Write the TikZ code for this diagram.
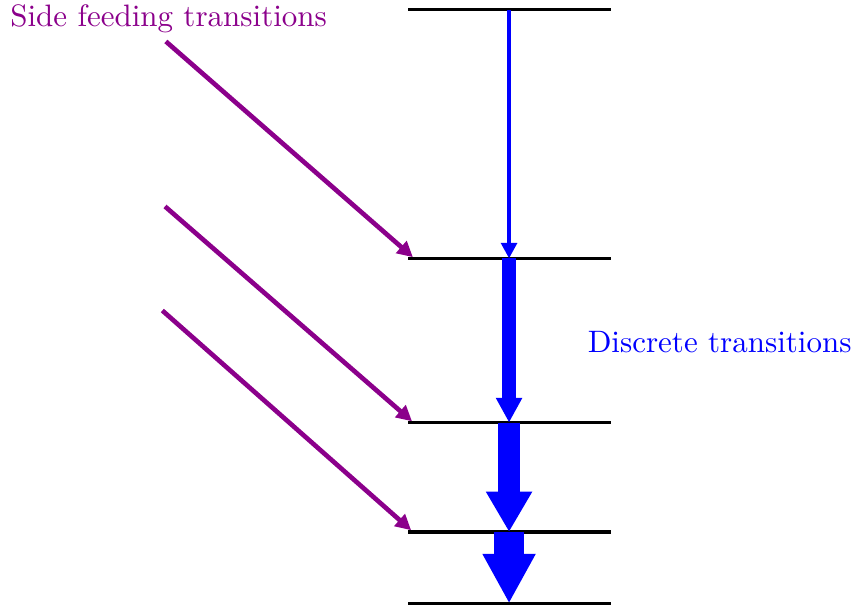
\documentclass[tikz,border=0pt]{standalone}
\usetikzlibrary{arrows.meta}

\definecolor{feedcol}{RGB}{139,0,139}
\tikzstyle{lvl} = [black, line width=1pt]
\tikzstyle{feed} = [feedcol, line width=1.5pt, -{Triangle[width=5pt,length=5pt]}]
\tikzstyle{decay} = [blue]

\begin{document}
\begin{tikzpicture}
\useasboundingbox (0,0) rectangle (9.68,6.88);
%levels
\coordinate (l0w) at (4.63,6.77); \coordinate (l0e) at (6.92,6.77);
\coordinate (l1w) at (4.63,3.95); \coordinate (l1e) at (6.92,3.95);
\coordinate (l2w) at (4.63,2.09); \coordinate (l2e) at (6.92,2.09);
\coordinate (l3w) at (4.63,0.85); \coordinate (l3e) at (6.92,0.85);
\coordinate (l4w) at (4.63,0.04); \coordinate (l4e) at (6.92,0.04);
\coordinate (l0) at (5.77,6.77);
\coordinate (l1) at (5.77,3.95);
\coordinate (l2) at (5.77,2.09);
\coordinate (l3) at (5.77,0.85);
\coordinate (l4) at (5.77,0.04);
\draw[lvl] (l0w) -- (l0e);
\draw[lvl] (l1w) -- (l1e);
\draw[lvl] (l2w) -- (l2e);
\draw[lvl] (l3w) -- (l3e);
\draw[lvl] (l4w) -- (l4e);
%begin discrete
\draw[decay, line width=1.3pt, -{Triangle[width=5pt,length=5pt]}] (l0) -- (l1);
\draw[decay, line width=4.5pt, -{Triangle[width=8pt,length=8pt]}] (l1) -- (l2);
\draw[decay, line width=7pt, -{Triangle[width=14pt,length=13pt]}] (l2) -- (l3);
\draw[decay, line width=9.4pt, -{Triangle[width=16pt,length=16pt]}] (l3) -- (l4);
\node[blue, anchor=base west, inner sep=0pt] (disc) at (6.655,2.88) {Discrete transitions};
%end discrete
%begin side feeding
\coordinate (s1) at (1.88,6.41); \coordinate (t1) at (4.68,3.965);
\coordinate (s2) at (1.87,4.54); \coordinate (t2) at (4.67,2.105);
\coordinate (s3) at (1.84,3.36); \coordinate (t3) at (4.66,0.87);
\draw[feed] (s1) -- (t1);
\draw[feed] (s2) -- (t2);
\draw[feed] (s3) -- (t3);
\node[feedcol, anchor=base west, inner sep=0pt] (side) at (0.11,6.58) {Side feeding transitions};
%end side feeding
\end{tikzpicture}
\end{document}
